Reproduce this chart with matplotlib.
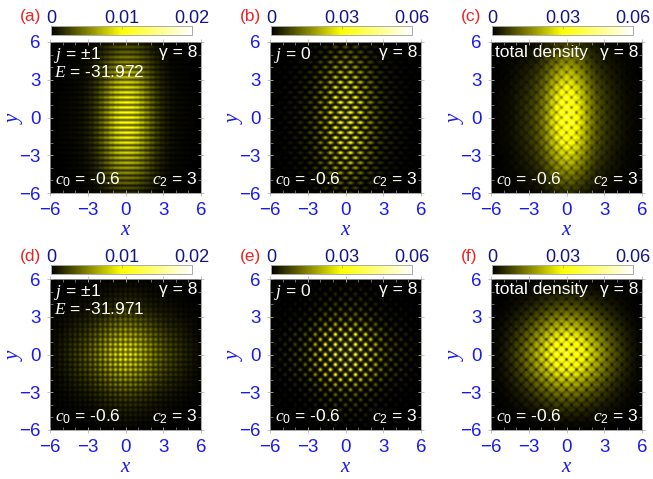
import numpy as np
import matplotlib
matplotlib.use('Agg')
import matplotlib.pyplot as plt
from matplotlib.colors import LinearSegmentedColormap

plt.rcParams['font.family'] = ['Liberation Sans', 'DejaVu Sans']
plt.rcParams['mathtext.fontset'] = 'custom'
plt.rcParams['mathtext.rm'] = 'Liberation Sans'
plt.rcParams['mathtext.it'] = 'Liberation Serif:italic'

W, H = 653, 479

panel_labels = ['(a)', '(b)', '(c)', '(d)', '(e)', '(f)']
note_left = ['$j$ = ±1\n$E$ = -31.972', '$j$ = 0', 'total density',
             '$j$ = ±1\n$E$ = -31.971', '$j$ = 0', 'total density']
vmax = [0.02, 0.06, 0.06, 0.02, 0.06, 0.06]
cbar_ticks = [[0, 0.01, 0.02], [0, 0.03, 0.06], [0, 0.03, 0.06],
              [0, 0.01, 0.02], [0, 0.03, 0.06], [0, 0.03, 0.06]]
cbar_labels = [['0', '0.01', '0.02'], ['0', '0.03', '0.06'], ['0', '0.03', '0.06'],
               ['0', '0.01', '0.02'], ['0', '0.03', '0.06'], ['0', '0.03', '0.06']]

# peak density
peak = [0.0105, 0.040, 0.038, 0.0105, 0.046, 0.038]

# brightness read along x and y, from the centre out to 6 in steps of 0.4
a_x = [1, .96, .87, .72, .55, .39, .26, .17, .11, .07, .05, .04, .03, .02, .01, .01]
a_y = [1, 1, .98, .96, .94, .90, .85, .80, .74, .68, .60, .53, .46, .38, .30, .20]
b_x = [1, .95, .85, .71, .56, .42, .30, .21, .16, .12, .09, .07, .05, .03, .02, .01]
b_y = [1, 1, .97, .95, .92, .88, .83, .77, .70, .63, .55, .47, .39, .31, .24, .16]
c_x = [1, .95, .83, .68, .52, .38, .28, .21, .16, .12, .09, .06, .04, .03, .02, .01]
c_y = [1, 1, .98, .95, .92, .87, .81, .74, .67, .60, .52, .44, .37, .30, .23, .16]
d_x = [1, .96, .90, .82, .72, .62, .52, .44, .37, .31, .26, .21, .16, .12, .08, .05]
d_y = [1, .96, .90, .82, .72, .62, .52, .42, .33, .26, .20, .16, .12, .09, .06, .03]
e_x = [1, .97, .92, .85, .75, .62, .48, .37, .28, .22, .18, .14, .11, .08, .05, .03]
e_y = [1, .97, .92, .85, .75, .62, .48, .37, .28, .22, .18, .14, .11, .08, .05, .03]
f_x = [1, .97, .92, .85, .76, .66, .56, .46, .37, .29, .22, .16, .11, .07, .04, .02]
f_y = [1, .97, .92, .85, .76, .66, .56, .46, .37, .29, .22, .16, .11, .07, .04, .02]

# one lattice cell of each map, 0.8 wide and high, in steps of 0.2
cell_a = [[1, 1, 1, 1], [.4, .4, .4, .4], [1, 1, 1, 1], [.4, .4, .4, .4]]
cell_b = [[1, .5, .1, .5], [.12, .08, .12, .08], [.1, .5, 1, .5], [.12, .08, .12, .08]]
cell_c = [[1, .92, .45, .92], [.9, .8, .9, .8], [.45, .92, 1, .92], [.9, .8, .9, .8]]
cell_d = [[1, .5, 1, .5], [.5, .3, .5, .3], [1, .5, 1, .5], [.5, .3, .5, .3]]
cell_e = [[1, .2, .02, .2], [.2, .08, .2, .08], [.02, .2, 1, .2], [.2, .08, .2, .08]]
cell_f = [[1, .9, .25, .9], [.9, .75, .9, .75], [.25, .9, 1, .9], [.9, .75, .9, .75]]

xs = [a_x, b_x, c_x, d_x, e_x, f_x]
ys = [a_y, b_y, c_y, d_y, e_y, f_y]
cells = [cell_a, cell_b, cell_c, cell_d, cell_e, cell_f]

# pixel boxes of the maps and colorbars
ax_left = [50, 270, 491, 50, 270, 491]
ax_top = [42, 42, 42, 279, 279, 279]
ax_size = 151
cb_left = [51, 271, 492, 51, 271, 492]
cb_top = [26, 26, 26, 265, 265, 265]
cb_w, cb_h = 141, 9

cmap = LinearSegmentedColormap.from_list('by', ['#000000', '#ffff00', '#ffffff'])


def profile(half):
    half = np.array(half, dtype=float)
    full = np.concatenate([half[:0:-1], half])
    return np.repeat(full, 2)[:61]


fig = plt.figure(figsize=(W / 100, H / 100), dpi=100)

for i in range(6):
    ax = fig.add_axes([ax_left[i] / W, 1 - (ax_top[i] + ax_size) / H, ax_size / W, ax_size / H])
    tile = np.array(cells[i])
    rows = (np.arange(61) - 30) % 4
    density = peak[i] * np.outer(profile(ys[i]), profile(xs[i])) * tile[rows][:, rows]
    im = ax.imshow(density, origin='lower', extent=[-6.1, 6.1, -6.1, 6.1], cmap=cmap,
                   vmin=0, vmax=vmax[i], interpolation='catrom', aspect='auto')
    ax.set_xlim(-6, 6)
    ax.set_ylim(-6, 6)
    ax.set_xticks([-6, -3, 0, 3, 6])
    ax.set_yticks([-6, -3, 0, 3, 6])
    ax.set_xticks(np.arange(-6, 7), minor=True)
    ax.set_yticks(np.arange(-6, 7), minor=True)
    ax.tick_params(which='major', direction='inout', length=5, width=0.6, color='#bbbbbb',
                   top=True, right=True, labelcolor='#1a1aee', labelsize=13.5, pad=4)
    ax.tick_params(which='minor', direction='in', length=2, width=0.5, color='#999999',
                   top=True, right=True)
    for s in ax.spines.values():
        s.set_color('#999999')
        s.set_linewidth(0.6)
    ax.set_xlabel('$x$', color='#1a1aee', fontsize=15, labelpad=1)
    ax.set_ylabel('$y$', color='#1a1aee', fontsize=15, labelpad=-4)

    ax.text(-5.72, 5.75, note_left[i], color='white', fontsize=12.5, va='top', ha='left', linespacing=0.95)
    ax.text(5.75, 5.75, 'γ = 8', color='white', fontsize=12.5, va='top', ha='right')
    ax.text(-5.6, -5.7, '$c_0$ = -0.6', color='white', fontsize=12.5, va='bottom', ha='left')
    ax.text(5.75, -5.7, '$c_2$ = 3', color='white', fontsize=12.5, va='bottom', ha='right')

    cax = fig.add_axes([cb_left[i] / W, 1 - (cb_top[i] + cb_h) / H, cb_w / W, cb_h / H])
    cb = fig.colorbar(im, cax=cax, orientation='horizontal')
    cb.set_ticks(cbar_ticks[i])
    cb.set_ticklabels(cbar_labels[i])
    cax.xaxis.set_ticks_position('top')
    cax.tick_params(direction='in', length=2, width=0.5, color='#999999',
                    labelcolor='#14148c', labelsize=13, pad=-1)
    cb.outline.set_edgecolor('#aaaaaa')
    cb.outline.set_linewidth(0.7)

    fig.text((cb_left[i] - 31) / W, 1 - (cb_top[i] - 9) / H, panel_labels[i], color='#ee2222',
             fontsize=12.5, ha='left', va='center')

fig.savefig('out.png', dpi=100)
